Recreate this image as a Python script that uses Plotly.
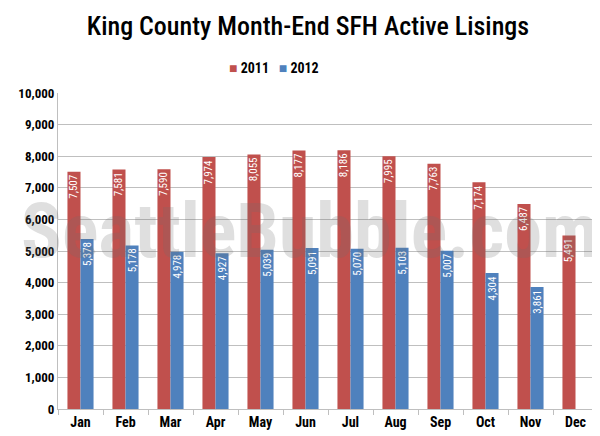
import plotly.graph_objects as go

months = ["Jan", "Feb", "Mar", "Apr", "May", "Jun", "Jul", "Aug", "Sep", "Oct", "Nov", "Dec"]
y2011 = [7507, 7581, 7590, 7974, 8055, 8177, 8186, 7995, 7763, 7174, 6487, 5491]
y2012 = [5378, 5178, 4978, 4927, 5039, 5091, 5070, 5103, 5007, 4304, 3861, None]
series = [("2011", y2011, "#C0504D"), ("2012", y2012, "#4F81BD")]

FONT = "Roboto Condensed"

fig = go.Figure()
for name, vals, color in series:
    fig.add_trace(go.Bar(
        x=months, y=vals, name=name, marker_color=color,
        marker_line_width=0,
        texttemplate="%{y:,}", textposition="inside", insidetextanchor="end",
        textangle=-90, constraintext="none",
        textfont=dict(color="white", size=11, family=FONT),
    ))

fig.update_layout(
    width=600, height=436,
    margin=dict(l=48, r=10, t=85, b=35),
    paper_bgcolor="white", plot_bgcolor="white",
    barmode="group", bargap=0.42, bargroupgap=0,
    showlegend=False,
    title=dict(text="King County Month-End SFH Active Lisings", x=0.5, xanchor="center",
               y=0.958, yanchor="middle",
               font=dict(family=FONT, size=26, color="black", weight=500)),
    font=dict(family=FONT),
)
fig.update_yaxes(range=[0, 10000], dtick=1000, tickformat=",", showgrid=True,
                 gridcolor="#BFBFBF", gridwidth=1, showline=True, linecolor="#BFBFBF",
                 ticks="", zeroline=False,
                 tickfont=dict(family=FONT, size=13, color="black", weight="bold"))
fig.update_xaxes(showline=True, linecolor="#BFBFBF", ticks="outside", tickson="boundaries",
                 ticklen=5, tickcolor="#BFBFBF",
                 tickfont=dict(family=FONT, size=14, color="black", weight="bold"))

legend_text = "&nbsp;&nbsp;&nbsp;".join(
    f"<span style='color:{c}'>■</span> {n}" for n, _, c in series)
fig.add_annotation(text=legend_text, xref="paper", yref="paper",
                   x=(265 - 48) / 542, y=(401 - 60) / 316, xanchor="center", yanchor="middle",
                   showarrow=False,
                   font=dict(family=FONT, size=14, color="black", weight="bold"))

fig.add_annotation(text="SeattleBubble.com", xref="paper", yref="paper",
                   x=(300 - 48) / 542, y=(401 - 223) / 316, showarrow=False,
                   font=dict(family=FONT, size=76, weight="bold",
                             color="rgba(110,110,110,0.22)"))

fig.write_html("out.html")
